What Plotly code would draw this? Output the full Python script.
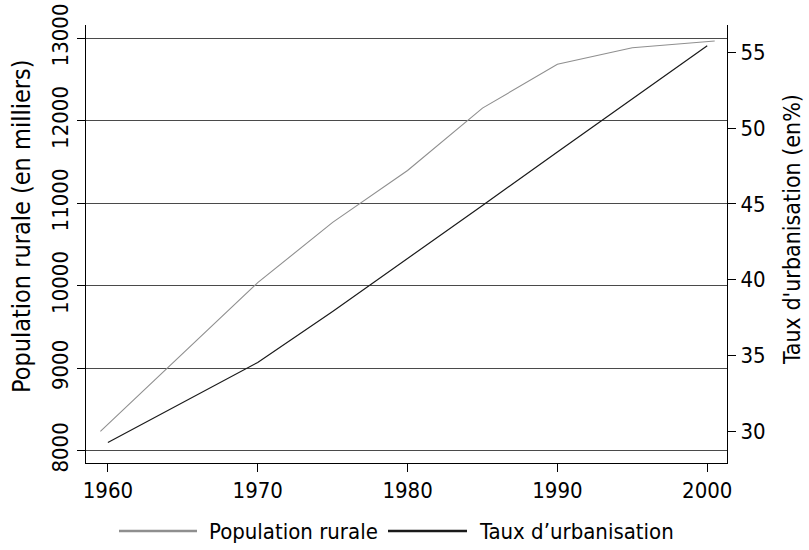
import plotly.graph_objects as go

# Population rurale (en milliers)
rural_years = [1959.5, 1970, 1975, 1980, 1985, 1990, 1995, 2000.5]
rural_pop = [8234, 10037, 10768, 11397, 12153, 12685, 12886, 12967]

# Taux d'urbanisation (en %)
urb_years = [1960, 1970, 1975, 1980, 1985, 1990, 1995, 2000]
urb_rate = [29.27, 34.55, 37.91, 41.38, 44.90, 48.43, 51.94, 55.43]

x_ticks = [1960, 1970, 1980, 1990, 2000]
left_ticks = [8000, 9000, 10000, 11000, 12000, 13000]
right_ticks = [30, 35, 40, 45, 50, 55]

FONT = "DejaVu Sans Condensed, Liberation Sans Narrow, Arial Narrow, sans-serif"
GRAY = "#8f8f8f"
DARK = "#1a1a1a"

# plot area in pixels, used to place the legend and titles in paper units
L, R, T, B = 86, 727, 25, 463
PW, PH = R - L, B - T


def px_x(px):
    return (px - L) / PW


def px_y(py):
    return (B - py) / PH


fig = go.Figure()
fig.add_trace(go.Scatter(x=rural_years, y=rural_pop, mode="lines",
                         line=dict(color=GRAY, width=1.1),
                         name="Population rurale", yaxis="y"))
fig.add_trace(go.Scatter(x=urb_years, y=urb_rate, mode="lines",
                         line=dict(color=DARK, width=1.2),
                         name="Taux d’urbanisation", yaxis="y2"))

tickfont = dict(family=FONT, size=22, color="black")

fig.update_layout(
    width=809, height=550,
    margin=dict(l=L, r=809 - R, t=T, b=550 - B, autoexpand=False),
    paper_bgcolor="white", plot_bgcolor="white",
    showlegend=False,
    xaxis=dict(range=[1958.54, 2001.32], tickvals=x_ticks, ticks="outside",
               ticklen=8, tickcolor="black", showline=True, linecolor="black",
               linewidth=1, showgrid=False, zeroline=False, tickfont=tickfont,
               tickformat="d", automargin=False),
    yaxis=dict(range=[7851, 13161], tickvals=left_ticks, ticks="outside",
               ticklen=8, tickcolor="black", showline=True, linecolor="black",
               linewidth=1, showgrid=True, gridcolor="#4a4a4a", gridwidth=1.2,
               zeroline=False, tickangle=-90, tickfont=tickfont,
               tickformat="d", ticklabeloverflow="allow", automargin=False),
    yaxis2=dict(range=[27.92, 56.80], tickvals=right_ticks, overlaying="y",
                side="right", ticks="outside", ticklen=8, tickcolor="black",
                showline=True, linecolor="black", linewidth=1, showgrid=False,
                zeroline=False, tickfont=tickfont, automargin=False),
)

# Axis titles
fig.add_annotation(text="Population rurale (en milliers)", xref="paper", yref="paper",
                   x=px_x(21), y=px_y(227), xanchor="center", yanchor="middle",
                   textangle=-90, showarrow=False,
                   font=dict(family=FONT, size=25, color="black"))
fig.add_annotation(text="Taux d'urbanisation (en%)", xref="paper", yref="paper",
                   x=px_x(792), y=px_y(230), xanchor="center", yanchor="middle",
                   textangle=-90, showarrow=False,
                   font=dict(family=FONT, size=23, color="black"))

# Legend drawn below the plot
legend_y = px_y(531)
legend_items = [("Population rurale", GRAY, 119, 197, 207),
                ("Taux d’urbanisation", DARK, 388, 467, 477)]
for label, color, x0, x1, xt in legend_items:
    fig.add_shape(type="line", xref="paper", yref="paper",
                  x0=px_x(x0), x1=px_x(x1), y0=legend_y, y1=legend_y,
                  line=dict(color=color, width=2.5))
    fig.add_annotation(text=label, xref="paper", yref="paper",
                       x=px_x(xt), y=legend_y,
                       xanchor="left", yanchor="middle", showarrow=False,
                       font=dict(family=FONT, size=22, color="black"))

fig.write_html("out.html")
